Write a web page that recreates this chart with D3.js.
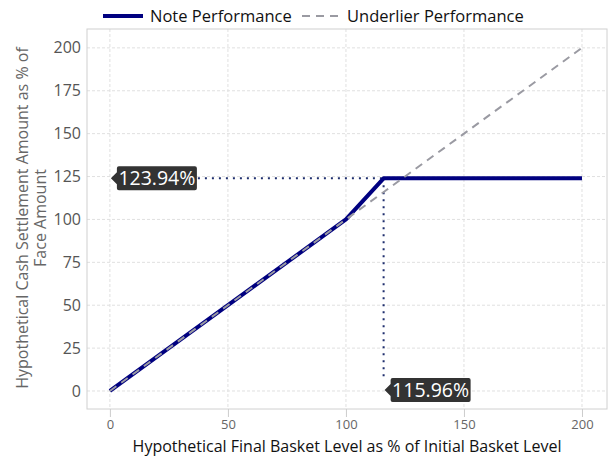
<!DOCTYPE html>
<html>
<head>
<meta charset="utf-8">
<script src="https://cdn.jsdelivr.net/npm/d3@7"></script>
<style>
  body { margin: 0; background: #fff; }
  text { font-family: "Open Sans", sans-serif; }
</style>
</head>
<body>
<svg id="chart" width="608" height="466"></svg>
<script>
// final basket level (x) vs cash settlement (y)
const noteX = [0, 100, 115.96, 200];
const noteY = [0, 100, 123.94, 123.94];
const underX = [0, 200];
const underY = [0, 200];
const xTicks = [0, 50, 100, 150, 200];
const yTicks = [0, 25, 50, 75, 100, 125, 150, 175, 200];
const capLevel = 123.94;
const capX = 115.96;

const svg = d3.select("#chart");
const plotLeft = 87, plotRight = 607, plotTop = 29, plotBottom = 409;

const x = d3.scaleLinear().domain([-9.7, 210.6]).range([plotLeft, plotRight]);
const y = d3.scaleLinear().domain([-10.5, 211]).range([plotBottom, plotTop]);

// grid
const grid = svg.append("g")
  .attr("stroke", "#e0e0e0")
  .attr("stroke-width", 1)
  .attr("stroke-dasharray", "3,2");
grid.selectAll(".gx").data(xTicks).join("line")
  .attr("x1", (d) => x(d)).attr("x2", (d) => x(d))
  .attr("y1", plotTop).attr("y2", plotBottom);
grid.selectAll(".gy").data(yTicks).join("line")
  .attr("y1", (d) => y(d)).attr("y2", (d) => y(d))
  .attr("x1", plotLeft).attr("x2", plotRight);

// frame
svg.append("rect")
  .attr("x", plotLeft).attr("y", plotTop)
  .attr("width", plotRight - plotLeft).attr("height", plotBottom - plotTop)
  .attr("fill", "none").attr("stroke", "#d0d0d0");

// x axis
const xAxis = svg.append("g")
  .attr("transform", `translate(0,${plotBottom})`)
  .call(d3.axisBottom(x).tickValues(xTicks).tickSize(8).tickPadding(3));
xAxis.select(".domain").remove();
xAxis.selectAll(".tick line").attr("stroke", "#ccc");
xAxis.selectAll(".tick text")
  .attr("fill", "#666").attr("font-size", 13)
  .attr("font-family", "Open Sans, sans-serif");

// y axis
const yAxis = svg.append("g")
  .attr("transform", `translate(${plotLeft},0)`)
  .call(d3.axisLeft(y).tickValues(yTicks).tickSize(0).tickPadding(6));
yAxis.select(".domain").remove();
yAxis.selectAll(".tick text")
  .attr("fill", "#555").attr("font-size", 16)
  .attr("font-family", "Open Sans, sans-serif");

// axis titles
svg.append("text")
  .attr("x", (plotLeft + plotRight) / 2).attr("y", 452)
  .attr("text-anchor", "middle")
  .attr("font-size", 16).attr("fill", "#111")
  .text("Hypothetical Final Basket Level as % of Initial Basket Level");

const yTitle = svg.append("text")
  .attr("transform", "translate(22,218) rotate(-90)")
  .attr("text-anchor", "middle")
  .attr("font-size", 16).attr("fill", "#666");
yTitle.append("tspan").attr("x", 0).attr("dy", "0.35em")
  .text("Hypothetical Cash Settlement Amount as % of");
yTitle.append("tspan").attr("x", 0).attr("dy", "1.15em")
  .text("Face Amount");

// dotted guide lines
const guides = svg.append("g")
  .attr("stroke", "#1f2f6e")
  .attr("stroke-width", 2)
  .attr("stroke-dasharray", "2,5");
guides.append("line")
  .attr("x1", x(0) + 88).attr("x2", x(capX))
  .attr("y1", y(capLevel)).attr("y2", y(capLevel));
guides.append("line")
  .attr("x1", x(capX)).attr("x2", x(capX))
  .attr("y1", y(capLevel)).attr("y2", y(0) - 12);

// series
const line = d3.line().x((d) => x(d[0])).y((d) => y(d[1]));
svg.append("path")
  .datum(d3.zip(noteX, noteY))
  .attr("d", line)
  .attr("fill", "none")
  .attr("stroke", "#000080")
  .attr("stroke-width", 4)
  .attr("stroke-linejoin", "round");
svg.append("path")
  .datum(d3.zip(underX, underY))
  .attr("d", line)
  .attr("fill", "none")
  .attr("stroke", "#9a9aa2")
  .attr("stroke-width", 2)
  .attr("stroke-dasharray", "8,6");

// callouts
const callout = (tipX, tipY, label) => {
  const g = svg.append("g").attr("transform", `translate(${tipX},${tipY})`);
  const w = 80, h = 24, a = 6;
  g.append("path")
    .attr("d", `M0,0 L${a},${-a} L${a},${-h / 2 + 2} Q${a},${-h / 2} ${a + 2},${-h / 2}
      L${a + w - 2},${-h / 2} Q${a + w},${-h / 2} ${a + w},${-h / 2 + 2}
      L${a + w},${h / 2 - 2} Q${a + w},${h / 2} ${a + w - 2},${h / 2}
      L${a + 2},${h / 2} Q${a},${h / 2} ${a},${h / 2 - 2} L${a},${a} Z`)
    .attr("fill", "#333");
  g.append("text")
    .attr("x", a + w / 2).attr("y", 0).attr("dy", "0.36em")
    .attr("text-anchor", "middle")
    .attr("font-size", 19.5).attr("fill", "#fff")
    .text(label);
};
callout(x(0) + 1, y(capLevel), `${capLevel.toFixed(2)}%`);
callout(x(capX) + 1, y(0) - 1, `${capX.toFixed(2)}%`);

// legend
const legend = svg.append("g").attr("transform", "translate(0,16)");
legend.append("line")
  .attr("x1", 103).attr("x2", 143).attr("y1", 0).attr("y2", 0)
  .attr("stroke", "#000080").attr("stroke-width", 4);
legend.append("text")
  .attr("x", 150).attr("y", 0).attr("dy", "0.35em")
  .attr("font-size", 16.5).attr("fill", "#111")
  .text("Note Performance");
legend.append("line")
  .attr("x1", 302).attr("x2", 338).attr("y1", 0).attr("y2", 0)
  .attr("stroke", "#9a9aa2").attr("stroke-width", 2)
  .attr("stroke-dasharray", "8,6");
legend.append("text")
  .attr("x", 347).attr("y", 0).attr("dy", "0.35em")
  .attr("font-size", 16.5).attr("fill", "#111")
  .text("Underlier Performance");
</script>
</body>
</html>
